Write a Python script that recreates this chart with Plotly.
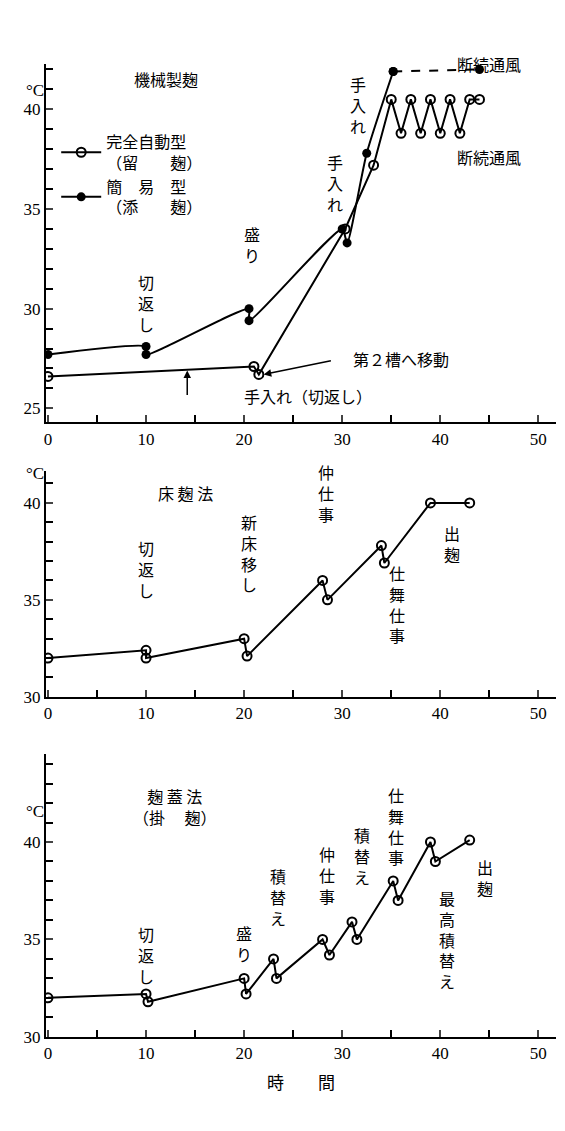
import plotly.graph_objects as go

# panel 1 : 機械製麹
auto_x = [0, 21, 21.5, 30.3, 33.2, 35, 36, 37, 38, 39, 40, 41, 42, 43, 44]
auto_y = [26.6, 27.1, 26.7, 34.0, 37.2, 40.5, 38.8, 40.5, 38.8, 40.5, 38.8, 40.5, 38.8, 40.5, 40.5]
simple_x = [0, 10, 10, 20.5, 20.5, 30, 30.5, 32.5, 35.2]
simple_y = [27.7, 28.1, 27.7, 30.0, 29.4, 34.0, 33.3, 37.8, 41.9]
vent_x = [35.2, 44]
vent_y = [41.9, 42.0]

# panel 2 : 床麹法
toko_x = [0, 10, 10, 20, 20.3, 28, 28.5, 34, 34.3, 39, 43]
toko_y = [32.0, 32.4, 32.0, 33.0, 32.1, 36.0, 35.0, 37.8, 36.9, 40.0, 40.0]

# panel 3 : 麹蓋法
futa_x = [0, 10, 10.2, 20, 20.2, 23, 23.3, 28, 28.7, 31, 31.5, 35.2, 35.7, 39, 39.5, 43]
futa_y = [32.0, 32.2, 31.8, 33.0, 32.2, 34.0, 33.0, 35.0, 34.2, 35.9, 35.0, 38.0, 37.0, 40.0, 39.0, 40.1]

W, H = 565, 1131
FONT = "Noto Sans CJK JP"
fig = go.Figure()

def py(px):
    return 1 - px / H

axes = [("", [24.3, 42.3], py(418), py(56)),
        ("2", [30, 41.65], py(695), py(467)),
        ("3", [30, 44.5], py(1038), py(753))]
for sfx, rng, y0, y1 in axes:
    fig.layout["xaxis" + sfx] = dict(
        domain=[0, 1], range=[-0.2, 51.8], anchor="y" + sfx, showgrid=False, zeroline=False,
        showline=True, linecolor="black", linewidth=2, ticks="inside", ticklen=7, tickwidth=2,
        dtick=10, tick0=0, minor=dict(dtick=5, ticks="inside", ticklen=7, tickwidth=2, tickcolor="black"),
        tickfont=dict(size=17, color="black", family="Liberation Serif"))
    fig.layout["yaxis" + sfx] = dict(
        domain=[y0, y1], range=rng, anchor="x" + sfx, showgrid=False, zeroline=False,
        showline=True, linecolor="black", linewidth=2, ticks="inside", ticklen=7, tickwidth=2,
        dtick=5, tick0=0, minor=dict(dtick=1, ticks="inside", ticklen=7, tickwidth=2, tickcolor="black"),
        tickfont=dict(size=17, color="black", family="Liberation Serif"))

line = dict(color="black", width=2)
open_m = dict(symbol="circle-open", size=9, color="black", line=dict(width=2))
fill_m = dict(symbol="circle", size=9, color="black")

fig.add_trace(go.Scatter(x=auto_x, y=auto_y, mode="lines+markers", line=line, marker=open_m,
                         name="完全自動型<br>（留　　麹）", xaxis="x", yaxis="y"))
fig.add_trace(go.Scatter(x=simple_x, y=simple_y, mode="lines+markers",
                         line=dict(color="black", width=2, shape="spline", smoothing=0.6), marker=fill_m,
                         name="簡　易　型<br>（添　　麹）", xaxis="x", yaxis="y"))
fig.add_trace(go.Scatter(x=vent_x, y=vent_y, mode="lines+markers", line=dict(color="black", width=2, dash="dash"),
                         marker=fill_m, showlegend=False, xaxis="x", yaxis="y"))
fig.add_trace(go.Scatter(x=toko_x, y=toko_y, mode="lines+markers", line=line, marker=open_m,
                         showlegend=False, xaxis="x2", yaxis="y2"))
fig.add_trace(go.Scatter(x=futa_x, y=futa_y, mode="lines+markers", line=line, marker=open_m,
                         showlegend=False, xaxis="x3", yaxis="y3"))

def vert(s):
    return "<br>".join(s)

notes = [
    ("", 12, 41.5, "機械製麹"),
    ("", 45, 37.6, "断続通風"), ("", 31.6, 40.2, vert("手入れ")),
    ("", 29.3, 36.3, vert("手入れ")), ("", 20.8, 33.2, vert("盛り")),
    ("", 10, 30.3, vert("切返し")),
    ("2", 14, 40.5, "床 麹 法"), ("2", 10, 36.6, vert("切返し")),
    ("2", 20.5, 37.4, vert("新床移し")), ("2", 28.3, 40.5, vert("仲仕事")),
    ("2", 35.6, 34.8, vert("仕舞仕事")), ("2", 41.2, 37.9, vert("出麹")),
    ("3", 13, 41.8, "麹 蓋 法<br>（掛　 麹）"), ("3", 10, 34.2, vert("切返し")),
    ("3", 20, 34.8, vert("盛り")), ("3", 23.5, 37.2, vert("積替え")),
    ("3", 28.5, 38.3, vert("仲仕事")), ("3", 32, 39.3, vert("積替え")),
    ("3", 35.5, 40.8, vert("仕舞仕事")), ("3", 40.7, 35.0, vert("最高積替え")),
    ("3", 44.6, 38.2, vert("出麹")),
]
for sfx, x, y, t in notes:
    fig.add_annotation(x=x, y=y, xref="x" + sfx, yref="y" + sfx, text=t, showarrow=False,
                       font=dict(size=16, color="black", family=FONT))

fig.add_annotation(x=45, y=py(42), xref="x", yref="paper", text="断続通風", showarrow=False,
                   font=dict(size=16, color="black", family=FONT))
fig.add_annotation(x=22, y=26.7, xref="x", yref="y", ax=29, ay=27.4, axref="x", ayref="y",
                   text="", showarrow=True, arrowhead=2, arrowwidth=1.5, arrowcolor="black")
fig.add_annotation(x=36, y=27.5, xref="x", yref="y", text="第２槽へ移動", showarrow=False,
                   font=dict(size=16, color="black", family=FONT))
fig.add_annotation(x=14.2, y=26.9, xref="x", yref="y", ax=14.2, ay=25.6, axref="x", ayref="y",
                   text="", showarrow=True, arrowhead=2, arrowwidth=1.5, arrowcolor="black")
fig.add_annotation(x=26.5, y=25.6, xref="x", yref="y", text="手入れ（切返し）", showarrow=False,
                   font=dict(size=16, color="black", family=FONT))
for yy in [py(72), py(470), py(822)]:
    fig.add_annotation(x=0.0, y=yy, xref="paper", yref="paper", text="°C", showarrow=False,
                       xanchor="right", font=dict(size=17, color="black", family="Liberation Serif"))
fig.add_annotation(x=0.5, y=py(1098), xref="paper", yref="paper", text="時　　間", showarrow=False,
                   font=dict(size=17, color="black", family=FONT))

fig.update_layout(
    width=W, height=H, margin=dict(l=38, r=17, t=0, b=0),
    plot_bgcolor="white", paper_bgcolor="white",
    legend=dict(x=0.02, y=py(118), xanchor="left", yanchor="top", bgcolor="rgba(0,0,0,0)",
                font=dict(size=16, color="black", family=FONT), tracegroupgap=14, itemwidth=40),
)
fig.write_html("out.html")
